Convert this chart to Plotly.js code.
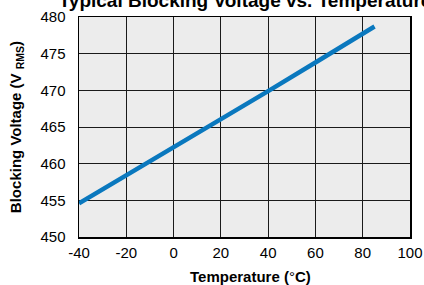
<!DOCTYPE html>
<html>
<head>
<meta charset="utf-8">
<script src="https://cdn.plot.ly/plotly-3.0.1.min.js"></script>
<style>html,body{margin:0;padding:0;background:#fff;}#chart{width:424px;height:285px;}</style>
</head>
<body>
<div id="chart"></div>
<script>
const temperature = [-40, -20, 0, 20, 40, 60, 80, 85];
const blockingVoltage = [454.6, 458.4, 462.2, 466.0, 469.9, 473.8, 477.7, 478.7];
const xTicks = [-40, -20, 0, 20, 40, 60, 80, 100];
const yTicks = [450, 455, 460, 465, 470, 475, 480];
const xTitle = '<b>Temperature (</b>°<b>C)</b>';
const yTitle = '<b>Blocking Voltage (V <sub>RMS</sub>)</b>';
const chartTitle = '<b>Typical Blocking Voltage vs. Temperature</b>';

const trace = {
  x: temperature,
  y: blockingVoltage,
  type: 'scatter',
  mode: 'lines',
  line: {color: '#0a78be', width: 4.5},
  hoverinfo: 'skip'
};

const font = {family: 'Arial, "Liberation Sans", Helvetica, sans-serif', color: '#000'};

const layout = {
  width: 424, height: 285,
  margin: {l: 79, r: 14, t: 17, b: 48, pad: 0},
  paper_bgcolor: '#ffffff',
  plot_bgcolor: '#ececec',
  showlegend: false,
  font: Object.assign({size: 15}, font),
  title: {
    text: chartTitle,
    font: Object.assign({size: 19}, font),
    x: 245/424, xref: 'container', xanchor: 'center',
    y: 1.0, yref: 'container', yanchor: 'middle'
  },
  xaxis: {
    range: [-40, 100],
    tickvals: xTicks,
    ticktext: xTicks.map(String),
    showgrid: true, gridcolor: '#1a1a1a', gridwidth: 1,
    zeroline: false,
    showline: true, linecolor: '#000', linewidth: 1.5, mirror: true,
    ticks: '', ticklabelstandoff: 1,
    tickfont: Object.assign({size: 15}, font),
    automargin: false, fixedrange: true
  },
  yaxis: {
    range: [450, 480],
    tickvals: yTicks,
    ticktext: yTicks.map(String),
    showgrid: true, gridcolor: '#1a1a1a', gridwidth: 1,
    zeroline: false,
    showline: true, linecolor: '#000', linewidth: 1.5, mirror: true,
    ticks: '', ticklabelstandoff: 9,
    tickfont: Object.assign({size: 15}, font),
    title: {text: yTitle, font: Object.assign({size: 15}, font), standoff: 15},
    automargin: false, fixedrange: true
  },
  annotations: [{
    text: xTitle,
    xref: 'paper', yref: 'paper',
    x: 0.517, y: -0.178, xanchor: 'center', yanchor: 'middle',
    showarrow: false,
    font: Object.assign({size: 15}, font)
  }]
};

Plotly.newPlot('chart', [trace], layout, {staticPlot: true, displayModeBar: false});
</script>
</body>
</html>
